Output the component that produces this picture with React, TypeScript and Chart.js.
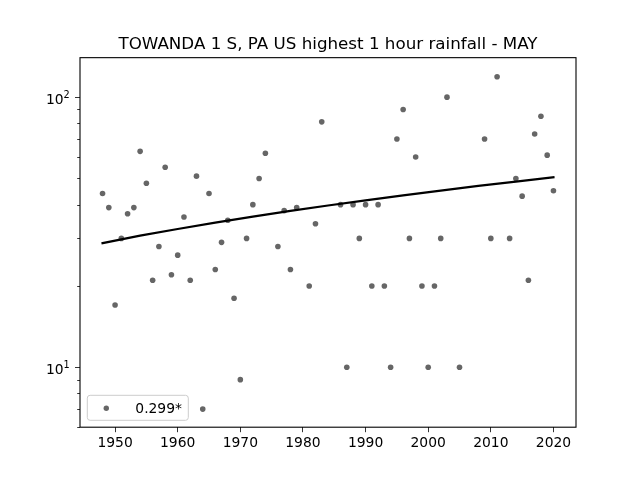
import React, { useEffect, useRef } from "react";
import { Chart, registerables } from "chart.js";

Chart.register(...registerables);

const TITLE = "TOWANDA 1 S, PA US highest 1 hour rainfall - MAY";
const LEGEND_LABEL = "0.299*";
const FONT = "'DejaVu Sans'";

const years = [
  1948, 1949, 1950, 1951, 1952, 1953, 1954, 1955, 1956, 1957, 1958, 1959, 1960, 1961, 1962, 1963,
  1964, 1965, 1966, 1967, 1968, 1969, 1970, 1971, 1972, 1973, 1974, 1976, 1977, 1978, 1979, 1981,
  1982, 1983, 1986, 1987, 1988, 1989, 1990, 1991, 1992, 1993, 1994, 1995, 1996, 1997, 1998, 1999,
  2000, 2001, 2002, 2003, 2005, 2009, 2010, 2011, 2013, 2014, 2015, 2016, 2017, 2018, 2019, 2020,
];
const rainfall = [
  44, 39, 17, 30, 37, 39, 63, 48, 21, 28, 55, 22, 26, 36, 21, 51,
  7, 44, 23, 29, 35, 18, 9, 30, 40, 50, 62, 28, 38, 23, 39, 20,
  34, 81, 40, 10, 40, 30, 40, 20, 40, 20, 10, 70, 90, 30, 60, 20,
  10, 20, 30, 100, 10, 70, 30, 119, 30, 50, 43, 21, 73, 85, 61, 45,
];
const trendYears = [1948, 1954, 1960, 1966, 1972, 1978, 1984, 1990, 1996, 2002, 2008, 2014, 2020];
const trendValues = [28.8, 30.7, 32.5, 34.3, 36.1, 37.9, 39.7, 41.5, 43.3, 45.1, 46.9, 48.7, 50.5];

const xTicks = [1950, 1960, 1970, 1980, 1990, 2000, 2010, 2020];
const yMajorTicks = [10, 100];
const yMajorBases = ["10", "10"];
const yMajorExponents = ["1", "2"];
const yMinorTicks = [6, 7, 8, 9, 20, 30, 40, 50, 60, 70, 80, 90];

const POINT_COLOR = "rgba(0,0,0,0.6)";

const framePlugin = {
  id: "frame",
  afterDatasetsDraw(chart: any) {
    const { ctx, chartArea: a, scales } = chart;
    ctx.save();
    // minor ticks on the log axis
    ctx.strokeStyle = "#000";
    ctx.lineWidth = 0.8;
    ctx.beginPath();
    for (const v of yMinorTicks) {
      const y = Math.round(scales.y.getPixelForValue(v)) + 0.5;
      ctx.moveTo(a.left - 2.8, y);
      ctx.lineTo(a.left, y);
    }
    ctx.stroke();
    // axes frame
    ctx.lineWidth = 1.1;
    ctx.strokeRect(a.left, a.top, a.right - a.left, a.bottom - a.top);
    // major y labels: base with raised exponent
    ctx.fillStyle = "#000";
    ctx.textAlign = "left";
    ctx.textBaseline = "alphabetic";
    yMajorTicks.forEach((v, i) => {
      const y = scales.y.getPixelForValue(v);
      ctx.font = `13.89px ${FONT}`;
      ctx.fillText(yMajorBases[i], 46, y + 7);
      ctx.font = `9.72px ${FONT}`;
      ctx.fillText(yMajorExponents[i], 63.5, y + 1);
    });
    // legend
    const lx = a.left + 7.3;
    const ly = 395.3;
    const lw = 101;
    const lh = 25;
    ctx.beginPath();
    ctx.roundRect(lx, ly, lw, lh, 2.8);
    ctx.fillStyle = "rgba(255,255,255,0.8)";
    ctx.fill();
    ctx.strokeStyle = "#ccc";
    ctx.lineWidth = 1;
    ctx.stroke();
    ctx.beginPath();
    ctx.arc(lx + 19, ly + 13, 2.7, 0, Math.PI * 2);
    ctx.fillStyle = POINT_COLOR;
    ctx.fill();
    ctx.fillStyle = "#000";
    ctx.font = `13.89px ${FONT}`;
    ctx.fillText(LEGEND_LABEL, lx + 48, ly + 17.5);
    ctx.restore();
  },
};

export default function App() {
  const ref = useRef<HTMLCanvasElement>(null);
  useEffect(() => {
    document.body.style.margin = "0";
    const chart = new Chart(ref.current!, {
      type: "scatter",
      data: {
        datasets: [
          {
            label: "trend",
            data: trendYears.map((x, i) => ({ x, y: trendValues[i] })),
            showLine: true,
            borderColor: "#000",
            borderWidth: 2.2,
            borderCapStyle: "square",
            pointRadius: 0,
            order: 0,
          },
          {
            label: LEGEND_LABEL,
            data: years.map((x, i) => ({ x, y: rainfall[i] })),
            backgroundColor: POINT_COLOR,
            borderWidth: 0,
            pointRadius: 2.8,
            order: 1,
          },
        ],
      },
      options: {
        responsive: false,
        animation: false,
        devicePixelRatio: 1,
        layout: { padding: { left: 0, right: 64, top: 0, bottom: 0 } },
        plugins: {
          legend: { display: false },
          tooltip: { enabled: false },
          title: {
            display: true,
            text: TITLE,
            color: "#000",
            fullSize: false,
            font: { family: FONT, size: 16.72, weight: "normal" },
            padding: { top: 34.4, bottom: 3.2 },
          },
        },
        scales: {
          x: {
            type: "linear",
            min: 1944.4,
            max: 2023.6,
            afterBuildTicks(scale: any) {
              scale.ticks = xTicks.map((value) => ({ value }));
            },
            afterFit(scale: any) {
              scale.height = 52.8;
            },
            border: { display: false },
            grid: { drawOnChartArea: false, tickLength: 5, tickColor: "#000", tickWidth: 0.8 },
            ticks: {
              color: "#000",
              font: { family: FONT, size: 13.89 },
              padding: 3,
              maxRotation: 0,
              autoSkip: false,
              callback: (v: any) => String(v),
            },
          },
          y: {
            type: "logarithmic",
            min: 6,
            max: 140,
            afterBuildTicks(scale: any) {
              scale.ticks = yMajorTicks.map((value) => ({ value, major: true }));
            },
            afterFit(scale: any) {
              scale.width = 80;
            },
            border: { display: false },
            grid: { drawOnChartArea: false, tickLength: 5, tickColor: "#000", tickWidth: 0.8 },
            ticks: { display: false },
          },
        },
      },
      plugins: [framePlugin],
    } as any);
    return () => chart.destroy();
  }, []);
  return <canvas ref={ref} width={640} height={480} style={{ display: "block" }} />;
}
